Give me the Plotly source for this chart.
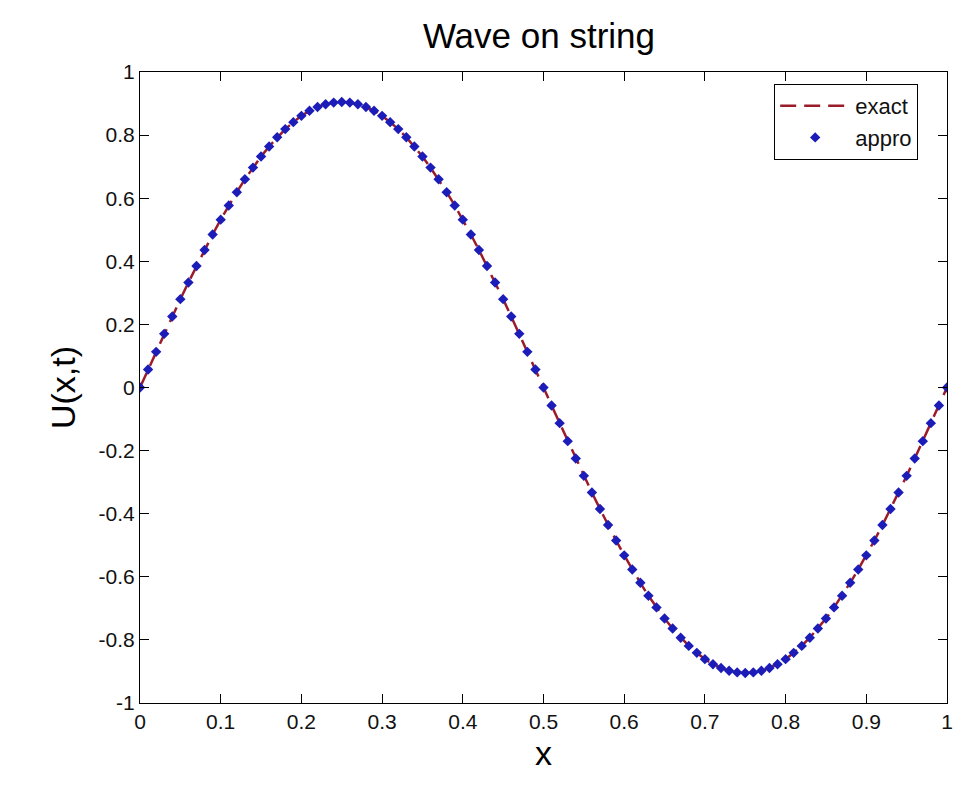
import plotly.graph_objects as go

x_vals = [round(i * 0.01, 2) for i in range(101)]

exact_u = [
    0.000, 0.057, 0.113, 0.170, 0.225, 0.280, 0.333, 0.385, 0.436, 0.485,
    0.532, 0.577, 0.619, 0.660, 0.697, 0.732, 0.764, 0.793, 0.819, 0.841,
    0.861, 0.877, 0.889, 0.898, 0.903, 0.905, 0.903, 0.898, 0.889, 0.877,
    0.861, 0.841, 0.819, 0.793, 0.764, 0.732, 0.697, 0.660, 0.619, 0.577,
    0.532, 0.485, 0.436, 0.385, 0.333, 0.280, 0.225, 0.170, 0.113, 0.057,
    0.000, -0.057, -0.113, -0.170, -0.225, -0.280, -0.333, -0.385, -0.436, -0.485,
    -0.532, -0.577, -0.619, -0.660, -0.697, -0.732, -0.764, -0.793, -0.819, -0.841,
    -0.861, -0.877, -0.889, -0.898, -0.903, -0.905, -0.903, -0.898, -0.889, -0.877,
    -0.861, -0.841, -0.819, -0.793, -0.764, -0.732, -0.697, -0.660, -0.619, -0.577,
    -0.532, -0.485, -0.436, -0.385, -0.333, -0.280, -0.225, -0.170, -0.113, -0.057,
    0.000,
]

appro_u = [
    0.000, 0.057, 0.113, 0.170, 0.225, 0.280, 0.333, 0.385, 0.436, 0.485,
    0.532, 0.577, 0.619, 0.660, 0.697, 0.732, 0.764, 0.793, 0.819, 0.841,
    0.861, 0.877, 0.889, 0.898, 0.903, 0.905, 0.903, 0.898, 0.889, 0.877,
    0.861, 0.841, 0.819, 0.793, 0.764, 0.732, 0.697, 0.660, 0.619, 0.577,
    0.532, 0.485, 0.436, 0.385, 0.333, 0.280, 0.225, 0.170, 0.113, 0.057,
    0.000, -0.057, -0.113, -0.170, -0.225, -0.280, -0.333, -0.385, -0.436, -0.485,
    -0.532, -0.577, -0.619, -0.660, -0.697, -0.732, -0.764, -0.793, -0.819, -0.841,
    -0.861, -0.877, -0.889, -0.898, -0.903, -0.905, -0.903, -0.898, -0.889, -0.877,
    -0.861, -0.841, -0.819, -0.793, -0.764, -0.732, -0.697, -0.660, -0.619, -0.577,
    -0.532, -0.485, -0.436, -0.385, -0.333, -0.280, -0.225, -0.170, -0.113, -0.057,
    0.000,
]

x_ticks = [0, 0.1, 0.2, 0.3, 0.4, 0.5, 0.6, 0.7, 0.8, 0.9, 1]
x_tick_labels = ["0", "0.1", "0.2", "0.3", "0.4", "0.5", "0.6", "0.7", "0.8", "0.9", "1"]
y_ticks = [-1, -0.8, -0.6, -0.4, -0.2, 0, 0.2, 0.4, 0.6, 0.8, 1]
y_tick_labels = ["-1", "-0.8", "-0.6", "-0.4", "-0.2", "0", "0.2", "0.4", "0.6", "0.8", "1"]

font_family = "Liberation Sans, Arial, sans-serif"

fig = go.Figure()
fig.add_trace(go.Scatter(
    x=x_vals, y=exact_u, mode="lines", name="exact",
    line=dict(color="#9A1B2A", width=2.5, dash="16px,8px"),
))
fig.add_trace(go.Scatter(
    x=x_vals, y=appro_u, mode="markers", name="appro",
    marker=dict(color="#1C1CB8", size=8, symbol="diamond", line=dict(width=0)),
))

axis_common = dict(
    showline=True, linecolor="black", linewidth=1, mirror="allticks",
    ticks="inside", ticklen=9, tickcolor="black", showgrid=False, zeroline=False,
    automargin=False,
    tickfont=dict(family=font_family, size=21, color="#111111"),
)

fig.update_layout(
    width=961, height=787,
    paper_bgcolor="white", plot_bgcolor="white",
    margin=dict(l=132, r=22, t=64, b=92),
    title=dict(text="Wave on string", x=0.5525, xanchor="center", y=0.965, yanchor="middle",
               automargin=False,
               font=dict(family=font_family, size=35, color="black")),
    xaxis=dict(range=[0, 1], tickvals=x_ticks, ticktext=x_tick_labels,
               title=dict(text="x", font=dict(family=font_family, size=34, color="black"), standoff=8),
               **axis_common),
    yaxis=dict(range=[-1, 1], tickvals=y_ticks, ticktext=y_tick_labels,
               title=dict(text="U(x,t)", font=dict(family=font_family, size=34, color="black"), standoff=12),
               **axis_common),
    legend=dict(x=0.9643, xanchor="right", y=0.981, yanchor="top",
                bgcolor="white", bordercolor="black", borderwidth=1,
                font=dict(family=font_family, size=22, color="#111111"),
                itemwidth=70, tracegroupgap=2),
    showlegend=True,
)

fig.write_html("out.html")
